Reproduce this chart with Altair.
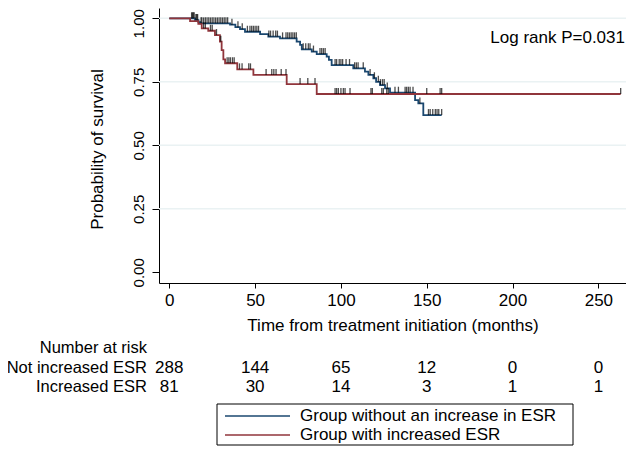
import altair as alt
import pandas as pd
import numpy as np

# ---- Data ----
blue_step_time = [0, 15, 17, 18, 35.4, 38.5, 41.2, 44.1, 52.9, 57.7, 64.5, 74.2, 76.2, 77.2, 83, 85.9,
                  91.7, 93, 94.6, 107.2, 114, 116, 118.9, 120.5, 122.8, 125.7, 128.6, 143.2, 145.1, 148, 158.7]
blue_step_surv = [1.0, 0.993, 0.985, 0.98, 0.975, 0.965, 0.957, 0.947, 0.938, 0.928, 0.921, 0.908, 0.895, 0.878,
                  0.869, 0.859, 0.849, 0.836, 0.816, 0.803, 0.79, 0.777, 0.764, 0.75, 0.737, 0.724, 0.707, 0.678,
                  0.665, 0.619, 0.619]
blue_censor = [13, 13.5, 14, 14.5, 15.5, 16, 16.5, 18.5, 19, 20, 21, 22, 23, 24, 25, 26, 27, 28, 29, 30, 31, 32,
               33, 34, 36.5, 40, 42.5, 45.5, 47, 48, 49, 50, 51, 52, 58, 59, 60.5, 62, 63, 66, 68, 69, 70, 71, 72,
               73, 74, 78, 79.5, 81, 82, 84, 87.8, 88.8, 89.8, 90.8, 96.6, 97.5, 99, 100, 101, 103, 105, 108, 109,
               110, 113, 117, 119.5, 121.8, 123, 124.2, 125.2, 127, 131.5, 133.5, 137.4, 138.3, 139.3, 140.3, 142,
               146, 151, 152, 153.5, 155, 156, 157, 158.7]

red_step_time = [0, 12.1, 16.9, 18.9, 22.7, 26.6, 29.5, 30.5, 31.5, 32.5, 39.6, 49, 68.4, 85.9, 263]
red_step_surv = [1.0, 0.989, 0.978, 0.96, 0.951, 0.934, 0.908, 0.875, 0.838, 0.823, 0.799, 0.777, 0.741, 0.702,
                 0.702]
red_censor = [20, 21, 24, 25, 27.5, 30, 33.7, 34.7, 35.6, 36.8, 37.8, 40.9, 42.4, 46.3, 47.3, 56.4, 59.7, 60.9,
              62.2, 65.2, 68, 76.2, 80.7, 84.9, 96.6, 97.5, 98.5, 100, 101.4, 102.4, 105.3, 117.5, 118.3, 123.8,
              124.7, 126.7, 127.6, 150, 157.8, 158.7, 263]

risk_times = [0, 50, 100, 150, 200, 250]
risk_not_increased = [288, 144, 65, 12, 0, 0]
risk_increased = [81, 30, 14, 3, 1, 1]

group_names = ["Group without an increase in ESR", "Group with increased ESR"]
group_colors = ["#1a476f", "#90353b"]
row_labels = ["Not increased ESR", "Increased ESR"]

x_ticks = [0, 50, 100, 150, 200, 250]
y_ticks = [0, 0.25, 0.5, 0.75, 1.0]
grid_vals = [0.25, 0.5, 0.75, 1.0]

FONT = "Liberation Sans"
FS = 17


def level_at(times, survs, t):
    idx = np.searchsorted(np.array(times), t, side="right") - 1
    return survs[max(idx, 0)]


curves = pd.concat([
    pd.DataFrame({"time": blue_step_time, "surv": blue_step_surv, "group": group_names[0]}),
    pd.DataFrame({"time": red_step_time, "surv": red_step_surv, "group": group_names[1]}),
])
censors = pd.concat([
    pd.DataFrame({"time": blue_censor,
                  "surv": [level_at(blue_step_time, blue_step_surv, t) for t in blue_censor]}),
    pd.DataFrame({"time": red_censor,
                  "surv": [level_at(red_step_time, red_step_surv, t) for t in red_censor]}),
])
risk_df = pd.DataFrame({"time": risk_times, "n1": risk_not_increased, "n2": risk_increased})
grid_df = pd.DataFrame({"surv": grid_vals})
one = pd.DataFrame({"k": [0]})

xs = alt.Scale(domain=[-6.0, 266.1], nice=False, zero=False)
ys = alt.Scale(domain=[-0.042, 1.0405], nice=False, zero=False)
cs = alt.Scale(domain=group_names, range=group_colors)

x_axis = alt.Axis(values=x_ticks, title="Time from treatment initiation (months)", grid=False,
                  tickSize=5, labelPadding=4, labelFontSize=FS, titleFontSize=FS,
                  titleFontWeight="normal", labelFont=FONT, titleFont=FONT,
                  domainColor="black", tickColor="black", labelColor="black", titleColor="black",
                  labelFlush=False, titleY=42, titleBaseline="middle")
y_axis = alt.Axis(values=y_ticks, format=".2f", title="Probability of survival", grid=False,
                  tickSize=7, labelAngle=270, labelAlign="center", labelBaseline="middle",
                  labelPadding=14, labelFontSize=15, titleFontSize=FS, titleFontWeight="normal",
                  labelFont=FONT, titleFont=FONT, domainColor="black", tickColor="black",
                  labelColor="black", titleColor="black", labelFlush=False,
                  labelOffset=alt.condition("datum.value == 1", alt.value(5), alt.value(0)),
                  titleAngle=270, titleX=-62, titleY=141, titleAlign="center",
                  titleBaseline="middle")

grid = alt.Chart(grid_df).mark_rule(color="#eaf2f3", strokeWidth=1.5).encode(
    y=alt.Y("surv:Q", scale=ys, axis=y_axis)
)

lines = alt.Chart(curves).mark_line(interpolate="step-after", strokeWidth=1.8).encode(
    x=alt.X("time:Q", scale=xs, axis=x_axis),
    y=alt.Y("surv:Q", scale=ys, axis=y_axis),
    color=alt.Color("group:N", scale=cs, legend=None),
    detail="group:N",
    order="time:Q",
)

ticks = alt.Chart(censors).mark_tick(orient="vertical", size=6, thickness=1.3, color="black",
                                     yOffset=-3).encode(
    x=alt.X("time:Q", scale=xs, axis=x_axis),
    y=alt.Y("surv:Q", scale=ys, axis=y_axis),
)


def ptext(txt, xp, yp, align="right", fs=FS):
    return alt.Chart(one).mark_text(text=txt, align=align, baseline="middle", font=FONT,
                                    fontSize=fs, color="black").encode(
        x=alt.value(xp), y=alt.value(yp))


logrank = ptext("Log rank P=0.031", 466, 30)
title_risk = ptext("Number at risk", -12, 340, fs=16.5)
lab1 = ptext(row_labels[0], -12, 360, fs=16.5)
lab2 = ptext(row_labels[1], -12, 379, fs=16.5)

num1 = alt.Chart(risk_df).mark_text(align="center", baseline="middle", font=FONT, fontSize=FS,
                                    color="black").encode(
    x=alt.X("time:Q", scale=xs, axis=x_axis), y=alt.value(360), text="n1:Q")
num2 = alt.Chart(risk_df).mark_text(align="center", baseline="middle", font=FONT, fontSize=FS,
                                    color="black").encode(
    x=alt.X("time:Q", scale=xs, axis=x_axis), y=alt.value(379), text="n2:Q")

leg_box = alt.Chart(one).mark_rect(fill="white", stroke="black", strokeWidth=1).encode(
    x=alt.value(58), x2=alt.value(414), y=alt.value(396), y2=alt.value(437))
leg_line1 = alt.Chart(one).mark_rule(strokeWidth=1.6, color=group_colors[0]).encode(
    x=alt.value(66), x2=alt.value(131), y=alt.value(408))
leg_line2 = alt.Chart(one).mark_rule(strokeWidth=1.6, color=group_colors[1]).encode(
    x=alt.value(66), x2=alt.value(131), y=alt.value(427))
leg_text1 = ptext(group_names[0], 141, 408, align="left")
leg_text2 = ptext(group_names[1], 141, 427, align="left")

chart = alt.layer(
    grid, lines, ticks, logrank, title_risk, lab1, lab2, num1, num2,
    leg_box, leg_line1, leg_line2, leg_text1, leg_text2
).properties(
    width=467, height=275,
    autosize=alt.AutoSizeParams(type="none"),
    padding={"left": 151, "top": 0, "right": 0, "bottom": 163},
    background="white",
).configure_view(stroke=None)

chart.save("out.html", embed_options={"renderer": "svg", "actions": False})
